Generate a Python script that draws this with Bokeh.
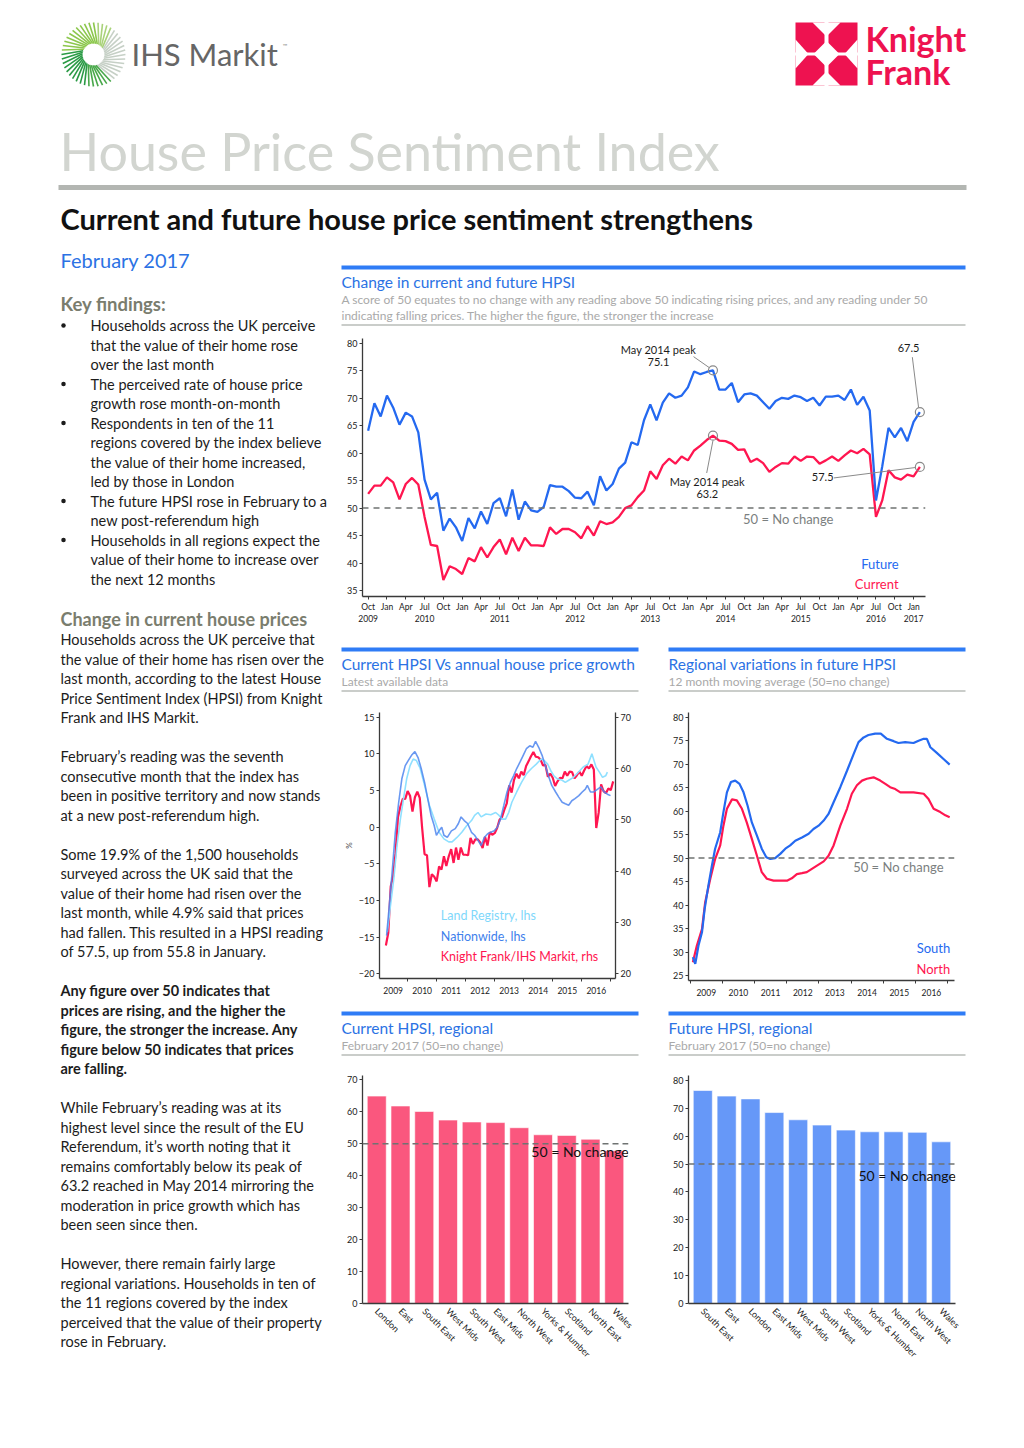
import math
from bokeh.plotting import figure
from bokeh.layouts import column, row
from bokeh.models import Range1d, FixedTicker, LinearAxis, FactorRange, CategoricalAxis, Span
from bokeh.core.properties import value
from bokeh.embed import file_html
from bokeh.resources import INLINE

FONT = "Lato"
BLUE_TXT = "#2b72e4"
BLUE_RULE = "#2f7cf6"
GRAY_RULE = "#b8bcb9"
SUB_GRAY = "#a9a9a9"
OLIVE = "#7a7d6e"
INK = "#1c1c1c"
LINE_BLUE = "#2469f0"
LINE_RED = "#ff1650"
BAR_RED = "#fa577e"
BAR_BLUE = "#6698f8"
DASH_GRAY = "#6f7372"
KF_RED = "#ee1250"

# ------------------------------------------------------------------ data
# x positions are months counted from Jan 2009 (= 0)
hpsi_months = list(range(9, 98))          # Oct 2009 .. Feb 2017
future_hpsi = [64.1, 69.1, 66.7, 70.5, 68.3, 65.2, 67.4, 66.7, 63.8, 55.2,
               51.6, 52.8, 45.9, 48.1, 46.5, 44.0, 48.2, 46.3, 49.4, 47.1,
               50.9, 51.8, 48.5, 53.4, 47.9, 51.2, 49.6, 49.3, 50.2, 54.2,
               53.9, 53.9, 53.1, 51.9, 51.8, 53.0, 50.5, 55.8, 53.2, 54.4,
               57.2, 58.3, 62.0, 61.5, 66.0, 68.9, 66.0, 69.2,
               70.9, 70.1, 70.5, 72.0, 74.9, 74.4, 74.8, 75.1, 71.6, 71.6,
               72.8, 69.3, 70.7, 70.9, 70.5, 69.3, 68.1, 69.5, 70.1, 69.9,
               70.5, 70.2, 69.5, 70.1, 68.7, 70.3, 70.3, 70.5, 69.7, 71.6,
               68.8, 70.3, 67.8, 51.4, 57.6, 64.6, 62.9, 64.6, 62.2, 65.7, 67.5]
current_hpsi = [52.6, 54.1, 54.1, 55.6, 54.7, 51.6, 54.4, 55.5, 54.3, 48.4,
                43.3, 43.1, 36.9, 39.4, 38.9, 38.0, 40.9, 40.3, 42.9, 41.0,
                42.9, 44.3, 41.6, 44.6, 42.2, 44.6, 43.2, 43.2, 43.1, 46.5,
                45.3, 46.2, 46.2, 45.6, 44.5, 46.7, 45.0, 47.6, 47.1, 47.4,
                48.4, 50.0, 50.5, 52.0, 53.2, 56.7, 55.3, 57.8,
                59.0, 58.1, 59.4, 58.7, 60.5, 61.4, 62.4, 63.2, 62.3, 62.2,
                61.7, 60.6, 60.7, 58.4, 59.0, 58.2, 56.6, 57.5, 58.2, 58.1,
                59.4, 58.6, 59.4, 59.3, 58.1, 58.7, 59.4, 58.6, 59.6, 60.5,
                60.0, 60.8, 59.8, 48.4, 51.4, 56.9, 55.6, 55.2, 56.1, 55.8, 57.5]

c1_month_ticks = [9, 12, 15, 18, 21, 24, 27, 30, 33, 36, 39, 42, 45, 48, 51,
                  54, 57, 60, 63, 66, 69, 72, 75, 78, 81, 84, 87, 90, 93, 96]
c1_month_names = ["Jan", "Apr", "Jul", "Oct"]
c1_year_ticks = [9, 18, 30, 42, 54, 66, 78, 90, 96]
c1_year_labels = ["2009", "2010", "2011", "2012", "2013", "2014", "2015", "2016", "2017"]
c1_yticks = [35, 40, 45, 50, 55, 60, 65, 70, 75, 80]

# chart 2: current HPSI (rhs) vs annual house price growth (lhs, %)
kf_early_months = [3, 4, 5, 6, 7, 8]
kf_early = [25.5, 28.0, 37.0, 39.0, 43.5, 50.5]
lr_months = [3.6, 4.9, 6.3, 7.6, 9, 10.3, 11.6, 13, 14.3, 15.6, 17.2, 19, 21, 23, 25,
             27, 29, 30.4, 32.4, 34.4, 36.4, 38.4, 39.7, 41.1, 42.4, 44.4, 46.4, 48.4,
             49.8, 51.1, 52.5, 53.8, 55.1, 57.1, 59.1, 61.2, 63.2, 65.2, 67.2, 68.5,
             69.9, 71.2, 72.5, 73.9, 75.9, 77.2, 78.6, 80.6, 82.6, 84.6, 86.6, 88.2,
             89.9, 91.3, 92.6, 93.9, 94.6]
land_registry = [-14.3, -10.7, -7.0, -2.5, 1.1, 3.9, 6.6, 8.4, 9.3, 9.1, 8.0, 5.7, 3.0,
                 1.1, -0.7, -1.6, -2.0, -2.0, -1.4, -0.7, 0.2, 0.9, 1.6, 2.0, 1.4, 1.8,
                 1.7, 2.0, 1.6, 1.1, 1.1, 2.0, 3.4, 4.8, 6.1, 7.3, 8.0, 8.6, 9.3, 9.1,
                 8.6, 7.7, 7.0, 6.6, 6.4, 6.1, 6.4, 6.8, 7.5, 8.2, 8.6, 10.0, 8.2, 7.5,
                 6.8, 7.0, 7.5]
nw_months = [3.3, 4.3, 5.6, 6.9, 8.3, 9.6, 11, 12.3, 13.6, 15, 16.3, 17.6, 19, 20.3,
             21.7, 23, 23.9, 25, 26.1, 27, 28.4, 30.1, 31.7, 33, 34.1, 35.4, 36.8,
             38.4, 39.7, 41.1, 42.4, 43.7, 45.1, 46.4, 47.8, 49.1, 50.4, 51.8, 53.1,
             54.5, 55.8, 57.1, 58.5, 59.8, 61.1, 62.5, 63.8, 64.9, 66.2, 67.6, 68.9,
             70.2, 71.6, 73.2, 74.5, 75.9, 77.2, 78.6, 79.9, 81.2, 82.8, 84.2, 85.5,
             86.3, 87.6, 89, 90.6, 91.9, 93.3, 94.6, 95.9]
nationwide = [-14.8, -11.1, -6.1, -0.7, 3.4, 6.6, 8.4, 9.1, 9.8, 10.3, 9.5, 8.0, 6.1,
              3.9, 1.6, 0.2, -1.1, -0.5, 0.0, -1.1, -1.4, -0.5, -0.2, 0.5, 1.4, 0.9,
              0.5, -0.7, -1.1, -1.8, -2.5, -1.4, -0.9, -0.7, -0.5, 0.0, 1.1, 3.0, 4.8,
              6.1, 7.0, 8.0, 8.9, 9.8, 10.7, 11.1, 10.9, 11.7, 10.9, 9.8, 8.4, 7.0,
              5.7, 4.8, 4.1, 3.4, 3.2, 3.0, 3.6, 3.9, 4.3, 4.8, 5.2, 5.7, 4.8, 4.8,
              5.2, 5.5, 4.8, 4.5, 4.3]
year_label_ticks = [6, 18, 30, 42, 54, 66, 78, 90]
year_labels = ["2009", "2010", "2011", "2012", "2013", "2014", "2015", "2016"]
year_bounds = [0, 12, 24, 36, 48, 60, 72, 84, 96]
c2_lhs_ticks = [-20, -15, -10, -5, 0, 5, 10, 15]
c2_rhs_ticks = [20, 30, 40, 50, 60, 70]

# chart 3: regional future HPSI, 12 month moving average
south_months = [1, 1.9, 3.1, 4.4, 5.4, 6.8, 8.1, 9.3, 11.2, 12.4, 13.7, 15.2, 16.8, 18.4,
                19.9, 21.4, 23, 24.9, 26.7, 28.4, 29.9, 31.7, 33.6, 35.5, 37.3, 39.2,
                41.7, 44.2, 46, 47.9, 49.8, 51.6, 53.5, 56, 58.5, 61, 62.8, 64.7, 66.5,
                69, 71.1, 73.4, 75.9, 77.7, 80.2, 83.3, 85.2, 87.1, 88.3, 89.6, 92,
                94.5, 96.8]
south = [28.9, 27.5, 31.4, 34.2, 39.2, 44.2, 48.4, 52.0, 55.5, 59.8, 64.0, 66.2, 66.5,
         65.8, 64.0, 61.2, 57.6, 54.8, 52.0, 50.2, 49.8, 50.0, 50.9, 52.0, 52.7, 53.7,
         54.4, 55.2, 56.2, 56.9, 58.0, 59.4, 61.9, 65.1, 68.6, 72.2, 74.7, 75.7, 76.2,
         76.5, 76.5, 75.4, 74.9, 74.5, 74.7, 74.5, 75.0, 75.4, 75.4, 73.6, 72.4,
         71.1, 69.9]
north_months = [1, 2.5, 4.4, 5.6, 7.5, 9.3, 11.2, 12.4, 13.7, 15.6, 17.4, 19.3, 21.1,
                23, 24.9, 26.7, 28.6, 31.1, 33.6, 36.1, 37.9, 39.8, 41.7, 43.5, 45.4,
                47.3, 49.8, 51.6, 53.5, 56, 58.5, 60.3, 62.2, 64.1, 65.9, 68.4, 70.9,
                72.8, 74.6, 76.5, 78.4, 83.3, 87.1, 88.9, 90.8, 93.3, 95.2, 96.8]
north = [27.8, 31.4, 34.9, 40.6, 45.6, 49.8, 52.7, 56.9, 60.5, 62.5, 62.3, 60.5, 57.6,
         54.1, 50.5, 47.0, 45.6, 45.2, 45.2, 45.2, 45.7, 46.6, 46.8, 47.0, 47.7, 48.4,
         49.3, 50.5, 52.7, 56.9, 60.5, 63.7, 65.5, 66.5, 66.9, 67.2, 66.5, 65.8, 65.1,
         64.7, 64.0, 64.0, 63.7, 62.6, 60.5, 59.8, 59.1, 58.7]
c3_yticks = [25, 30, 35, 40, 45, 50, 55, 60, 65, 70, 75, 80]

# charts 4 and 5: regional bars, February 2017
cur_regions = ["London", "East", "South East", "West Mids", "South West", "East Mids",
               "North West", "Yorks & Humber", "Scotland", "North East", "Wales"]
cur_values = [64.9, 61.8, 60.1, 57.4, 56.8, 56.6, 55.0, 52.8, 52.6, 51.4, 47.8]
fut_regions = ["South East", "East", "London", "East Mids", "West Mids", "South West",
               "Scotland", "Yorks & Humber", "North East", "North West", "Wales"]
fut_values = [76.4, 74.4, 73.4, 68.5, 65.9, 64.0, 62.2, 61.6, 61.6, 61.4, 58.0]
c4_yticks = [0, 10, 20, 30, 40, 50, 60, 70]
c5_yticks = [0, 10, 20, 30, 40, 50, 60, 70, 80]

# ------------------------------------------------------------------ helpers
def no_align(p):
    try:
        p.frame_align = False
    except Exception:
        pass
    return p


def canvas(w, h):
    p = figure(width=w, height=h, x_range=Range1d(0, w), y_range=Range1d(h, 0),
               x_axis_type=None, y_axis_type=None, output_backend="svg",
               toolbar_location=None, min_border=0)
    p.outline_line_color = None
    return no_align(p)


def txt(p, x, y, s, size, color=INK, bold=False, align="left", font=FONT, **kw):
    p.text(x=[x], y=[y], text=[s], text_font=value(font), text_font_size=f"{size}px",
           text_color=color, text_font_style="bold" if bold else "normal",
           text_align=align, text_baseline="middle", **kw)


def hrule(p, x0, x1, y, thick, color):
    p.quad(left=[x0], right=[x1], top=[y - thick / 2], bottom=[y + thick / 2],
           fill_color=color, line_color=None)


def panel_head(w, h, x0, x1, y_rule, title, subs):
    p = canvas(w, h)
    hrule(p, x0, x1, y_rule, 4, BLUE_RULE)
    txt(p, x0, y_rule + 14, title, 15.5, BLUE_TXT)
    for i, s in enumerate(subs):
        txt(p, x0, y_rule + 32 + 16 * i, s, 12, SUB_GRAY)
    hrule(p, x0, x1, y_rule + 32 + 16 * (len(subs) - 1) + 9.5, 1.6, GRAY_RULE)
    return p


def chart(w, h, xr, yr, left, right, top, bottom):
    p = figure(width=w, height=h, x_range=xr, y_range=yr, x_axis_type=None,
               y_axis_type=None, output_backend="svg", toolbar_location=None,
               min_border_left=left, min_border_right=right, min_border_top=top,
               min_border_bottom=bottom)
    p.outline_line_color = None
    return no_align(p)


def style(ax, size="9px", line=True, tick_out=3, minor=False):
    ax.major_label_text_font = FONT
    ax.major_label_text_font_size = size
    ax.major_label_text_color = "#222222"
    ax.axis_line_color = "#3a3a3a" if line else None
    ax.axis_line_width = 1.3
    ax.major_tick_line_color = "#3a3a3a" if tick_out else None
    ax.major_tick_in = 0
    ax.major_tick_out = tick_out
    ax.minor_tick_in = 0
    ax.minor_tick_out = 3
    ax.minor_tick_line_color = "#3a3a3a" if minor else None
    ax.major_label_standoff = 2
    return ax


def lin_axis(ticks, overrides=None, minor=None):
    ax = LinearAxis(ticker=FixedTicker(ticks=ticks, minor_ticks=minor or []))
    if overrides:
        ax.major_label_overrides = overrides
    return ax


def span50(p, dash="6 4"):
    p.add_layout(Span(location=50, dimension="width", line_color=DASH_GRAY,
                      line_width=1.5, line_dash=dash))

# ------------------------------------------------------------------ page header
header = canvas(1016, 240)
cx, cy = 93, 54
for i in range(44):
    a = 2 * math.pi * i / 44
    ca, sa = math.cos(a), math.sin(a)
    if ca > 0.55:
        col = "#c6d0c6"
    elif sa > 0:
        col = "#2a9a45" if ca < -0.2 else "#48a84a"
    else:
        col = "#8cc74c" if ca < 0 else "#a9d27a"
    b = a + 0.35
    header.segment(x0=[cx + 11 * math.cos(b)], y0=[cy + 11 * math.sin(b)],
                   x1=[cx + 32 * ca], y1=[cy + 32 * sa], line_color=col, line_width=1.6)
txt(header, 131, 53, "IHS Markit", 31, color="#666666")
txt(header, 282, 45, "\u2122", 6, color="#8a8a8a")
for (l, t, r, b) in [(795, 22, 824, 52), (828, 22, 857, 52), (795, 55, 824, 85), (828, 55, 857, 85)]:
    header.quad(left=[l], right=[r], top=[t], bottom=[b], fill_color=KF_RED, line_color=None)
header.patches(xs=[[813, 826, 839, 826], [812, 840, 826], [812, 840, 826], [795, 795, 808], [857, 857, 844]],
               ys=[[53.5, 40.5, 53.5, 66.5], [22, 22, 36], [85, 85, 71], [39, 68, 53.5], [39, 68, 53.5]],
               fill_color="white", line_color=None)
txt(header, 865, 38, "Knight", 34, color=KF_RED, bold=True)
txt(header, 865, 71, "Frank", 34, color=KF_RED, bold=True)
txt(header, 59, 150, "House Price Sentiment Index", 52, color="#d2d5d0")
hrule(header, 58, 966, 187, 5, "#b3b6b2")
txt(header, 60, 218, "Current and future house price sentiment strengthens", 29, bold=True,
    color="#111111")

# ------------------------------------------------------------------ left text column
left = canvas(340, 1200)
OY = 240
txt(left, 60, 259 - OY, "February 2017", 20, color=BLUE_TXT)
txt(left, 60, 303 - OY, "Key findings:", 18.5, color=OLIVE, bold=True)
bullets = [
    ["Households across the UK perceive", "that the value of their home rose", "over the last month"],
    ["The perceived rate of house price", "growth rose month-on-month"],
    ["Respondents in ten of the 11", "regions covered by the index believe",
     "the value of their home increased,", "led by those in London"],
    ["The future HPSI rose in February to a", "new post-referendum high"],
    ["Households in all regions expect the", "value of their home to increase over",
     "the next 12 months"],
]
k = 0
for blines in bullets:
    y0 = 325 + 19.5 * k
    left.scatter(x=[63], y=[y0 - OY], size=4.5, marker="circle", fill_color=INK, line_color=None)
    for ln in blines:
        txt(left, 90, 325 + 19.5 * k - OY, ln, 14.5)
        k += 1
txt(left, 60, 618 - OY, "Change in current house prices", 18, color=OLIVE, bold=True)
paras = [
    (False, ["Households across the UK perceive that", "the value of their home has risen over the",
             "last month, according to the latest House", "Price Sentiment Index (HPSI) from Knight",
             "Frank and IHS Markit."]),
    (False, ["February\u2019s reading was the seventh", "consecutive month that the index has",
             "been in positive territory and now stands", "at a new post-referendum high."]),
    (False, ["Some 19.9% of the 1,500 households", "surveyed across the UK said that the",
             "value of their home had risen over the", "last month, while 4.9% said that prices",
             "had fallen. This resulted in a HPSI reading", "of 57.5, up from 55.8 in January."]),
    (True, ["Any figure over 50 indicates that", "prices are rising, and the higher the",
            "figure, the stronger the increase. Any", "figure below 50 indicates that prices",
            "are falling."]),
    (False, ["While February\u2019s reading was at its", "highest level since the result of the EU",
             "Referendum, it\u2019s worth noting that it", "remains comfortably below its peak of",
             "63.2 reached in May 2014 mirroring the", "moderation in price growth which has",
             "been seen since then."]),
    (False, ["However, there remain fairly large", "regional variations. Households in ten of",
             "the 11 regions covered by the index", "perceived that the value of their property",
             "rose in February."]),
]
k = 0
for bold, plines in paras:
    for ln in plines:
        txt(left, 60, 639 + 19.5 * k - OY, ln, 14.5, bold=bold)
        k += 1
    k += 1

# ------------------------------------------------------------------ chart 1
head1 = panel_head(676, 90, 1, 625, 27, "Change in current and future HPSI",
                   ["A score of 50 equates to no change with any reading above 50 indicating rising prices, and any reading under 50",
                    "indicating falling prices. The higher the figure, the stronger the increase"])
p1 = chart(676, 305, Range1d(8.1, 97.9), Range1d(33.9, 80.9), 22, 91, 8, 39)
p1.add_layout(style(lin_axis(c1_yticks), size="9px"), "left")
month_over = {t: c1_month_names[(t % 12) // 3] for t in c1_month_ticks}
p1.add_layout(style(lin_axis(c1_month_ticks, month_over), size="8.5px"), "below")
ya2 = style(lin_axis(c1_year_ticks, dict(zip(c1_year_ticks, c1_year_labels))), size="8.5px",
            line=False, tick_out=0)
ya2.major_label_standoff = 0
p1.add_layout(ya2, "below")
span50(p1, "6 5")
p1.line(hpsi_months, current_hpsi, line_color=LINE_RED, line_width=2.3)
p1.line(hpsi_months, future_hpsi, line_color=LINE_BLUE, line_width=2.3)
peak_i = hpsi_months.index(64)
mk_x = [64, 64, hpsi_months[-1], hpsi_months[-1]]
mk_y = [future_hpsi[peak_i], current_hpsi[peak_i], future_hpsi[-1], current_hpsi[-1]]
p1.segment(x0=[60.9, 64.0, 95.8, 83.3], y0=[77.6, 62.3, 77.5, 55.5],
           x1=[63.4, 63.0, 96.8, 96.3], y1=[75.6, 56.4, 68.3, 57.4],
           line_color="#8a8a8a", line_width=1)
p1.scatter(mk_x, mk_y, size=9, marker="circle", fill_alpha=0, line_color="#8a8a8a", line_width=1.2)
txt(p1, 55.3, 78.9, "May 2014 peak", 11, align="center")
txt(p1, 55.3, 76.7, f"{future_hpsi[peak_i]:.1f}", 11, align="center")
txt(p1, 63.1, 54.9, "May 2014 peak", 11, align="center")
txt(p1, 63.1, 52.5, f"{current_hpsi[peak_i]:.1f}", 11, align="center")
txt(p1, 95.2, 79.1, f"{future_hpsi[-1]:.1f}", 11, align="center")
txt(p1, 81.5, 55.7, f"{current_hpsi[-1]:.1f}", 11, align="center")
txt(p1, 76.0, 48.1, "50 = No change", 13, color="#7b8080", align="center")
txt(p1, 93.6, 39.9, "Future", 13, color=LINE_BLUE, align="right")
txt(p1, 93.6, 36.1, "Current", 13, color=LINE_RED, align="right")

# ------------------------------------------------------------------ chart 2
head2a = panel_head(326, 60, 1, 298, 14, "Current HPSI Vs annual house price growth",
                    ["Latest available data"])
p2 = chart(326, 310, Range1d(0.36, 97.96), Range1d(-20.64, 15.64), 32, 51, 17, 27)
p2.extra_y_ranges = {"rhs": Range1d(19.08, 70.92)}
la = style(lin_axis(c2_lhs_ticks), size="9px")
la.axis_label = "%"
la.axis_label_text_font = FONT
la.axis_label_text_font_size = "8px"
la.axis_label_text_font_style = "normal"
la.axis_label_standoff = 2
p2.add_layout(la, "left")
ra = style(LinearAxis(y_range_name="rhs", ticker=FixedTicker(ticks=c2_rhs_ticks)), size="9px")
p2.add_layout(ra, "right")
xa2 = style(lin_axis(year_label_ticks, dict(zip(year_label_ticks, year_labels)), minor=year_bounds),
            size="8.5px", tick_out=0, minor=True)
xa2.major_label_standoff = 5
p2.add_layout(xa2, "below")
p2.line(kf_early_months + hpsi_months, kf_early + current_hpsi, line_color=LINE_RED,
        line_width=2.2, y_range_name="rhs")
p2.line(lr_months, land_registry, line_color="#8fe0ff", line_width=1.6)
p2.line(nw_months, nationwide, line_color="#4f86ee", line_width=1.6, line_alpha=0.85)
txt(p2, 25.7, -12.05, "Land Registry, lhs", 12.5, color="#7fd8fb")
txt(p2, 25.7, -14.9, "Nationwide, lhs", 12.5, color="#3f7fec")
txt(p2, 25.7, -17.6, "Knight Frank/IHS Markit, rhs", 12.5, color=LINE_RED)

# ------------------------------------------------------------------ chart 3
head2b = panel_head(350, 60, 2, 299, 14, "Regional variations in future HPSI",
                    ["12 month moving average (50=no change)"])
p3 = chart(350, 310, Range1d(-0.63, 98.6), Range1d(23.94, 81.0), 22, 62, 17, 25)
p3.add_layout(style(lin_axis(c3_yticks), size="9px"), "left")
xa3 = style(lin_axis(year_label_ticks, dict(zip(year_label_ticks, year_labels)), minor=year_bounds),
            size="8.5px", tick_out=0, minor=True)
xa3.major_label_standoff = 5
p3.add_layout(xa3, "below")
span50(p3)
p3.line(north_months, north, line_color=LINE_RED, line_width=2.2)
p3.line(south_months, south, line_color=LINE_BLUE, line_width=2.2)
txt(p3, 60.8, 48.2, "50 = No change", 13, color="#7b8080")
txt(p3, 97.0, 30.8, "South", 13, color=LINE_BLUE, align="right")
txt(p3, 97.0, 26.3, "North", 13, color=LINE_RED, align="right")

# ------------------------------------------------------------------ charts 4 & 5
head3a = panel_head(326, 60, 1, 298, 8, "Current HPSI, regional", ["February 2017 (50=no change)"])
head3b = panel_head(350, 60, 2, 299, 8, "Future HPSI, regional", ["February 2017 (50=no change)"])


def bar_chart(w, regions, vals, ymax, yticks, color, right, note_x, note_y):
    p = chart(w, 375, FactorRange(factors=regions, range_padding=0.1, range_padding_units="absolute"),
              Range1d(0, ymax), 22, right, 10, 137)
    p.add_layout(style(lin_axis(yticks), size="9px"), "left")
    ca = style(CategoricalAxis(), size="9px", tick_out=0)
    ca.major_label_orientation = -math.pi / 4
    ca.major_label_standoff = 6
    p.add_layout(ca, "below")
    p.vbar(x=regions, top=vals, width=0.8, fill_color=color, line_color="white", line_width=0.6)
    span50(p)
    txt(p, note_x, note_y, "50 = No change", 14, color="#111111")
    return p


p4 = bar_chart(326, cur_regions, cur_values, 71.34, c4_yticks, BAR_RED, 38, 7.01, 47.6)
p5 = bar_chart(350, fut_regions, fut_values, 81.79, c5_yticks, BAR_BLUE, 61, 7.03, 46.0)

right_col = column(row(head1), row(p1), row(head2a, head2b), row(p2, p3),
                   row(head3a, head3b), row(p4, p5))
page = column(header, row(left, right_col))

open("out.html", "w").write(file_html(page, INLINE, "House Price Sentiment Index"))
